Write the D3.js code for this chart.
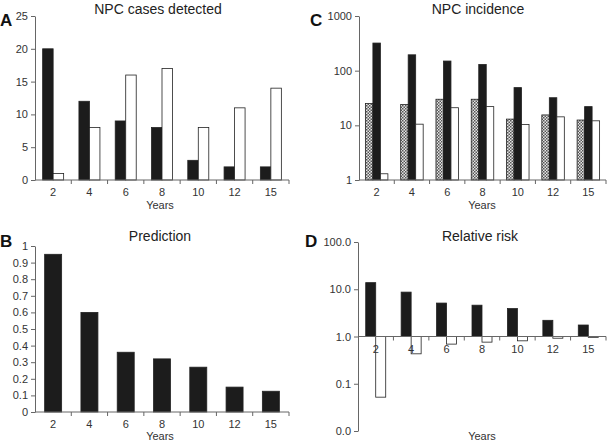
<!DOCTYPE html>
<html>
<head>
<meta charset="utf-8">
<script src="https://cdn.jsdelivr.net/npm/d3@7"></script>
<style>
  body { margin: 0; background: #fff; }
  svg { font-family: "Liberation Sans", Arial, sans-serif; }
  .axis path, .axis line { stroke: #666; }
  .axis text { fill: #333; font-size: 11px; }
</style>
</head>
<body>
<svg id="fig" width="607" height="443"></svg>
<script>
const years = ["2", "4", "6", "8", "10", "12", "15"]

// A: NPC cases detected
const casesBlack = [20, 12, 9, 8, 3, 2, 2]
const casesWhite = [1, 8, 16, 17, 8, 11, 14]
const casesTicks = [0, 5, 10, 15, 20, 25]

// B: prediction
const prediction = [0.95, 0.60, 0.36, 0.32, 0.27, 0.15, 0.125]
const predTicks = [0, 0.1, 0.2, 0.3, 0.4, 0.5, 0.6, 0.7, 0.8, 0.9, 1]

// C: NPC incidence (log)
const incHatched = [25, 24, 30, 30, 13, 15.5, 12.5]
const incBlack = [320, 195, 150, 130, 49, 32, 22]
const incWhite = [1.3, 10.5, 21, 22, 10.4, 14.3, 12.1]
const incTicks = [1, 10, 100, 1000]

// D: relative risk (log)
const rrBlack = [13.8, 8.7, 5.1, 4.6, 3.9, 2.2, 1.75]
const rrWhite = [0.052, 0.43, 0.69, 0.76, 0.81, 0.92, 0.96]
const rrTicks = [0.01, 0.1, 1, 10, 100]

const svg = d3.select('#fig')

const defs = svg.append('defs')
const pat = defs.append('pattern')
  .attr('id', 'hatch')
  .attr('width', 3).attr('height', 3)
  .attr('patternUnits', 'userSpaceOnUse')
pat.append('rect').attr('width', 3).attr('height', 3).attr('fill', '#e6e6e6')
pat.append('rect').attr('width', 1.5).attr('height', 1.5).attr('fill', '#555')
pat.append('rect').attr('x', 1.5).attr('y', 1.5).attr('width', 1.5).attr('height', 1.5).attr('fill', '#555')

function panel(opts) {
  const g = svg.append('g')
  const x = d3.scaleBand().domain(years).range([opts.x0, opts.x1])
  const y = opts.y

  // bars
  const n = opts.series.length
  const bw = opts.barW
  opts.series.forEach((s, si) => {
    g.selectAll(null)
      .data(s.values)
      .enter()
      .append('rect')
      .attr('x', (d, i) => x(years[i]) + x.bandwidth() / 2 - n * bw / 2 + si * bw)
      .attr('width', bw)
      .attr('y', d => Math.min(y(d), y(opts.base)))
      .attr('height', d => Math.abs(y(opts.base) - y(d)))
      .attr('fill', s.fill)
      .attr('stroke', '#222')
      .attr('stroke-width', 0.8)
  })

  // y axis
  g.append('g')
    .attr('class', 'axis')
    .attr('transform', `translate(${opts.x0},0)`)
    .call(d3.axisLeft(y).tickValues(opts.ticks).tickFormat(opts.fmt).tickSize(4).tickSizeOuter(0))

  // x axis: ticks at band boundaries, labels at centers
  const xa = g.append('g')
    .attr('class', 'axis')
    .attr('transform', `translate(0,${y(opts.base)})`)
  xa.append('line')
    .attr('x1', opts.x0).attr('x2', opts.x1)
  xa.selectAll('.bt')
    .data(years.slice(1).concat(['end']))
    .enter()
    .append('line')
    .attr('x1', (d, i) => i < years.length - 1 ? x(d) : opts.x1)
    .attr('x2', (d, i) => i < years.length - 1 ? x(d) : opts.x1)
    .attr('y1', 0).attr('y2', 4)
  xa.selectAll('text')
    .data(years)
    .enter()
    .append('text')
    .attr('x', d => x(d) + x.bandwidth() / 2)
    .attr('y', 16)
    .attr('text-anchor', 'middle')
    .text(d => d)

  g.append('text')
    .attr('x', opts.yearsX).attr('y', opts.yearsY)
    .attr('text-anchor', 'middle')
    .attr('font-size', 11).attr('fill', '#333')
    .text('Years')

  g.append('text')
    .attr('x', opts.titleX).attr('y', opts.titleY)
    .attr('text-anchor', 'middle')
    .attr('font-size', 14).attr('fill', '#222')
    .text(opts.title)

  g.append('text')
    .attr('x', opts.letterX).attr('y', opts.letterY)
    .attr('font-size', 17).attr('font-weight', 'bold').attr('fill', '#111')
    .text(opts.letter)
}

panel({
  letter: 'A', letterX: 0, letterY: 26,
  title: 'NPC cases detected', titleX: 158, titleY: 14,
  x0: 35, x1: 289,
  y: d3.scaleLinear().domain([0, 25]).range([180, 16]),
  base: 0, ticks: casesTicks, fmt: d3.format('d'),
  barW: 10.5,
  series: [{values: casesBlack, fill: '#1c1c1c'}, {values: casesWhite, fill: '#fff'}],
  yearsX: 160, yearsY: 209
})

panel({
  letter: 'B', letterX: 0, letterY: 247,
  title: 'Prediction', titleX: 160, titleY: 241,
  x0: 35, x1: 289,
  y: d3.scaleLinear().domain([0, 1]).range([412, 246]),
  base: 0, ticks: predTicks, fmt: d => d === 0 || d === 1 ? String(d) : d3.format('.1f')(d),
  barW: 17,
  series: [{values: prediction, fill: '#1c1c1c'}],
  yearsX: 160, yearsY: 440
})

panel({
  letter: 'C', letterX: 310, letterY: 26,
  title: 'NPC incidence', titleX: 478, titleY: 14,
  x0: 359, x1: 606,
  y: d3.scaleLog().domain([1, 1000]).range([180, 16]),
  base: 1, ticks: incTicks, fmt: d3.format('d'),
  barW: 7.5,
  series: [{values: incHatched, fill: 'url(#hatch)'}, {values: incBlack, fill: '#1c1c1c'}, {values: incWhite, fill: '#fff'}],
  yearsX: 482, yearsY: 209
})

panel({
  letter: 'D', letterX: 305, letterY: 247,
  title: 'Relative risk', titleX: 480, titleY: 241,
  x0: 358, x1: 606,
  y: d3.scaleLog().domain([0.01, 100]).range([431, 242]),
  base: 1, ticks: rrTicks, fmt: d3.format('.1f'),
  barW: 10,
  series: [{values: rrBlack, fill: '#1c1c1c'}, {values: rrWhite, fill: '#fff'}],
  yearsX: 482, yearsY: 440
})
</script>
</body>
</html>
